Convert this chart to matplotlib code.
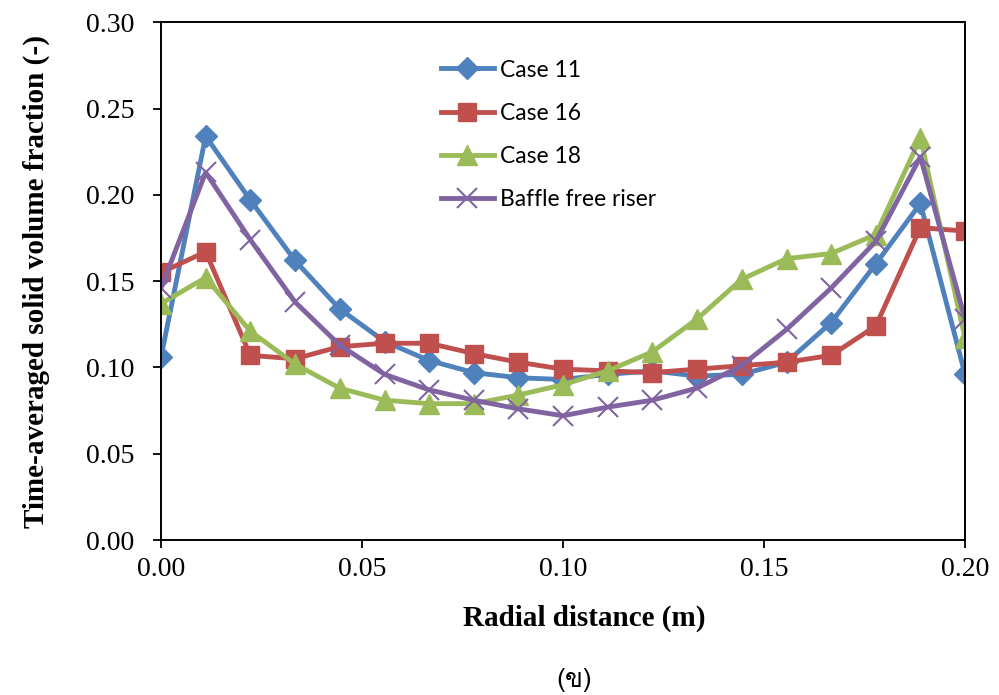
import matplotlib
matplotlib.use('Agg')
import matplotlib.pyplot as plt
from matplotlib import font_manager
from fontTools.ttLib import TTFont

# radial positions (m)
r = [0.0, 0.0111, 0.0222, 0.0333, 0.0444, 0.0556, 0.0667, 0.0778, 0.0889, 0.1,
     0.1111, 0.1222, 0.1333, 0.1444, 0.1556, 0.1667, 0.1778, 0.1889, 0.2]

case11 = [0.106, 0.234, 0.197, 0.162, 0.134, 0.115, 0.104, 0.097, 0.094, 0.093,
          0.096, 0.098, 0.095, 0.096, 0.103, 0.126, 0.160, 0.195, 0.096]
case16 = [0.155, 0.167, 0.107, 0.105, 0.112, 0.114, 0.114, 0.108, 0.103, 0.099,
          0.098, 0.097, 0.099, 0.101, 0.103, 0.107, 0.124, 0.181, 0.179]
case18 = [0.137, 0.152, 0.121, 0.102, 0.088, 0.081, 0.079, 0.079, 0.084, 0.090,
          0.098, 0.109, 0.128, 0.151, 0.163, 0.166, 0.177, 0.233, 0.117]
baffle_free = [0.146, 0.213, 0.174, 0.138, 0.113, 0.096, 0.087, 0.081, 0.076, 0.072,
               0.077, 0.081, 0.088, 0.101, 0.122, 0.146, 0.173, 0.222, 0.128]

labels = ['Case 11', 'Case 16', 'Case 18', 'Baffle free riser']


def thai_font():
    # find an installed font that has the Thai letter kho khai
    for f in font_manager.fontManager.ttflist:
        try:
            cmap = TTFont(f.fname, fontNumber=0, lazy=True).getBestCmap()
            if cmap and 0x0E02 in cmap:
                return f.name
        except Exception:
            pass
    return 'DejaVu Sans'


serif = 'Liberation Serif'

fig = plt.figure(figsize=(9.99, 6.95), dpi=100)
ax = fig.add_axes([0.1612, 0.223, 0.8048, 0.745])

ax.plot(r, case11, color='#4F81BD', lw=3.5, marker='D', ms=11, label=labels[0])
ax.plot(r, case16, color='#C0504D', lw=3.5, marker='s', ms=12.5, label=labels[1])
ax.plot(r, case18, color='#9BBB59', lw=3.5, marker='^', ms=14, label=labels[2])
ax.plot(r, baffle_free, color='#8064A2', lw=3.5, marker='x', ms=14, mew=1.5,
        label=labels[3])

ax.set_xlim(0, 0.2)
ax.set_ylim(0, 0.3)
ax.set_xticks([0, 0.05, 0.1, 0.15, 0.2])
ax.set_yticks([0, 0.05, 0.1, 0.15, 0.2, 0.25, 0.3])
ax.set_xticklabels([f'{v:.2f}' for v in ax.get_xticks()])
ax.set_yticklabels([f'{v:.2f}' for v in ax.get_yticks()])
ax.tick_params(direction='out', length=6, width=1.3, labelsize=20)
ax.tick_params(axis='x', pad=6)
ax.tick_params(axis='y', pad=13)
for lab in ax.get_xticklabels() + ax.get_yticklabels():
    lab.set_fontfamily(serif)
for s in ax.spines.values():
    s.set_linewidth(1.4)

ax.set_xlabel('Radial distance (m)', fontsize=21, fontweight='bold',
              fontfamily=serif, labelpad=17)
ax.xaxis.set_label_coords(0.526, -0.125)
ax.set_ylabel('Time-averaged solid volume fraction (-)', fontsize=21,
              fontweight='bold', fontfamily=serif, labelpad=26)

ax.legend(loc='upper left', bbox_to_anchor=(0.348, 0.928), frameon=False,
          prop={'family': 'Lato', 'size': 16.5}, handlelength=2.3,
          labelspacing=0.97, handletextpad=0.3, borderpad=0, borderaxespad=0)

fig.text(0.5745, 0.0216, '(ข)', ha='center', va='center', fontsize=19,
         family=[thai_font(), serif])

fig.savefig('out.png', dpi=100, facecolor='white')
